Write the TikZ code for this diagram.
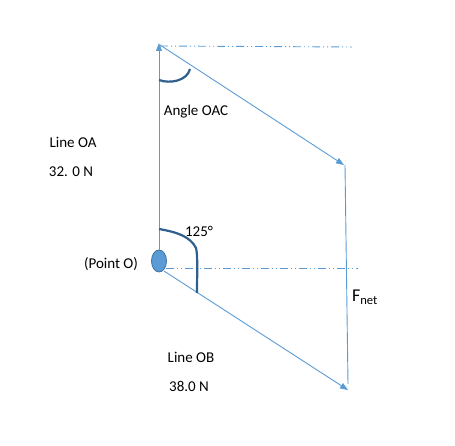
\documentclass[tikz,border=0pt]{standalone}
\usepackage{fontspec}
\setmainfont{Carlito}
\usetikzlibrary{arrows.meta,shapes.geometric}
\definecolor{lblue}{HTML}{5B9BD5}
\definecolor{dblue}{HTML}{41719C}
\definecolor{arcblue}{HTML}{2E5F8F}
\tikzset{
  vec/.style={draw=lblue, line width=0.9pt, -{Triangle[length=8pt,width=6pt]}},
  plain/.style={draw=lblue, line width=0.9pt},
  ref/.style={draw=lblue, line width=0.9pt, dash pattern=on 8pt off 3pt on 1pt off 3pt on 1pt off 3pt},
  anglearc/.style={draw=arcblue, line width=2.2pt},
  lbl/.style={font=\fontsize{15}{17}\selectfont, text=black, inner sep=0pt}
}
\begin{document}
\begin{tikzpicture}[x=1pt,y=-1pt]
\useasboundingbox (0,0) rectangle (455,446);
\node[ellipse, minimum width=15pt, minimum height=22pt, inner sep=0pt, fill=lblue, draw=dblue, line width=0.8pt] (O) at (159,261) {};
\coordinate (A) at (159,43);
\coordinate (Aend) at (352,47);
\coordinate (C) at (344,165);
\coordinate (Ctop) at (345,165);
\coordinate (B) at (348,390);
\coordinate (Bmid) at (348,384);
\coordinate (Oref) at (166,268);
\coordinate (Oend) at (358,268);
% reference lines
\draw[ref] (160,46) -- (Aend);
\draw[ref] (Oref) -- (Oend);
% vectors
\draw[vec] (O.north) -- (A);
\draw[vec] (160,45) -- (C);
\draw[plain] (Ctop) -- (Bmid);
\draw[vec] (164,271) -- (B);
% angle arcs
\draw[anglearc] (159,229) .. controls (176,232) and (190,236) .. (196,248) .. controls (198,256) and (197,275) .. (197,293);
\draw[anglearc] (159,80) .. controls (170,84) and (187,81) .. (190,69);
% labels
\node[lbl] (tOAC) at (196,112) {Angle OAC};
\node[lbl] (tOA) at (73,142) {Line OA};
\node[lbl] (tOAv) at (71,172) {32. 0 N};
\node[lbl] (t125) at (199,231) {125°};
\node[lbl] (tO) at (111,264) {(Point O)};
\node[font=\fontsize{18}{20}\selectfont, inner sep=0pt] (tF) at (365,297) {F\textsubscript{net}};
\node[lbl] (tOB) at (191,357) {Line OB};
\node[lbl] (tOBv) at (189,386) {38.0 N};
\end{tikzpicture}
\end{document}
